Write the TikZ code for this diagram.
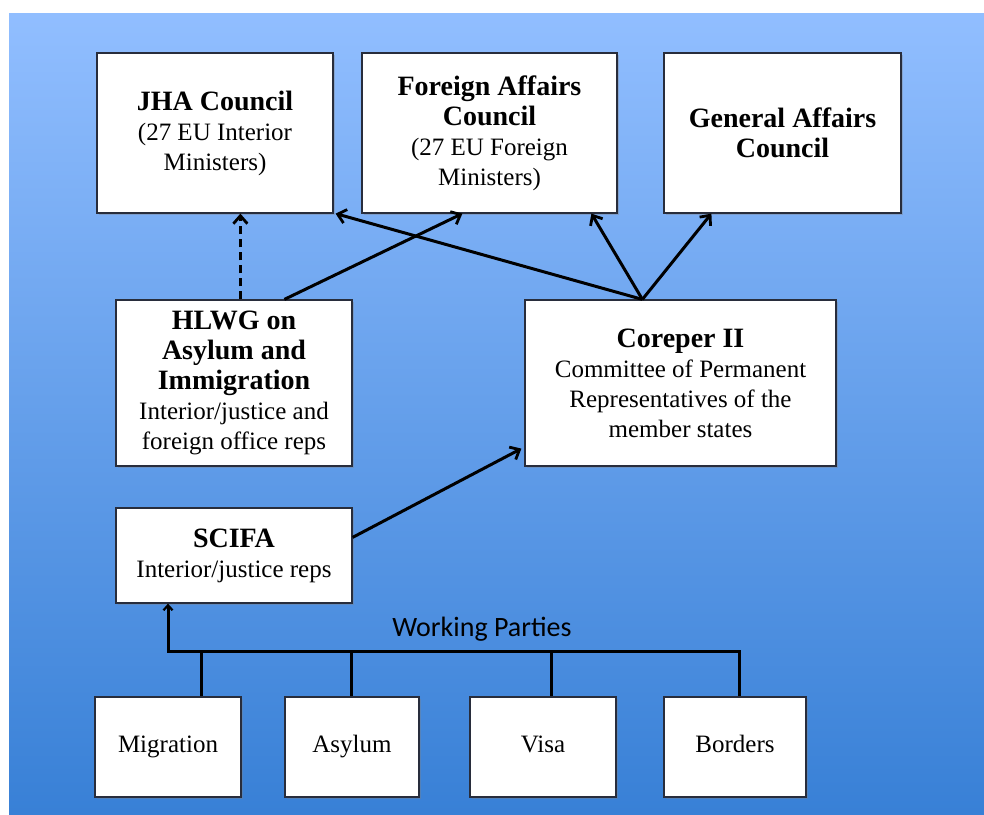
\documentclass[tikz,border=0pt]{standalone}
\usepackage{fontspec}
\setmainfont{Liberation Serif}
\newfontfamily\wpfont{Carlito}
\usetikzlibrary{arrows.meta,calc,shadows}
\definecolor{bgtop}{RGB}{145,190,255}
\definecolor{bgbot}{RGB}{56,128,214}
\definecolor{boxline}{RGB}{40,45,60}
\tikzset{
  box/.style={draw=boxline, line width=1.2pt, fill=white, inner sep=0pt, align=center,
    font=\fontsize{25}{30}\selectfont,
    drop shadow={shadow xshift=1.5pt, shadow yshift=-1.5pt, opacity=0.35}},
  wpbox/.style={box, minimum height=100, text height=17pt, text depth=6pt},
  conn/.style={line width=3pt, black},
  tip/.style={conn, -{Straight Barb[length=8pt,width=14pt,line width=2.8pt]}},
  smalltip/.style={conn, -{Straight Barb[length=5pt,width=9pt,line width=2.2pt]}},
}
\newcommand{\ttl}[1]{{\bfseries\fontsize{28}{30}\selectfont #1}}
\begin{document}
\begin{tikzpicture}[x=1pt,y=-1pt]
\useasboundingbox (0,0) rectangle (984,814);
\fill[white] (0,0) rectangle (984,814);
\shade[top color=bgtop, bottom color=bgbot] (9,13) rectangle (984,814);

% top row
\node[box, minimum width=236, minimum height=160] (jha) at (215,133)
  {\ttl{JHA Council}\\(27 EU Interior\\Ministers)};
\node[box, minimum width=255, minimum height=160] (fa) at (489.5,133)
  {\ttl{Foreign Affairs}\\\ttl{Council}\\(27 EU Foreign\\Ministers)};
\node[box, minimum width=237, minimum height=160] (ga) at (782.5,133)
  {\ttl{General Affairs}\\\ttl{Council}};

% middle row
\node[box, minimum width=236, minimum height=166] (hlwg) at (234,383)
  {\ttl{HLWG on}\\\ttl{Asylum and}\\\ttl{Immigration}\\Interior/justice and\\foreign office reps};
\node[box, minimum width=311, minimum height=166] (cor) at (680.5,383)
  {\ttl{Coreper II}\\Committee of Permanent\\Representatives of the\\member states};

% SCIFA
\node[box, minimum width=236, minimum height=95] (scifa) at (234,555.5)
  {\ttl{SCIFA}\\Interior/justice reps};

% working parties
\node[wpbox, minimum width=146] (mig) at (168,747) {Migration};
\node[wpbox, minimum width=134] (asy) at (352,747) {Asylum};
\node[wpbox, minimum width=146] (visa) at (543,747) {Visa};
\node[wpbox, minimum width=142] (bord) at (735,747) {Borders};
\node[font=\wpfont\fontsize{28}{30}\selectfont, inner sep=0pt] (wp) at (482,629) {Working Parties};

% connector anchor points
\coordinate (hl1) at ($(hlwg.north west)+(125,0)$);
\coordinate (hl2) at ($(hlwg.north west)+(169,0)$);
\coordinate (co1) at ($(cor.north west)+(118,0)$);
\coordinate (jhaT) at ($(jha.south east)+(2,0)$);
\coordinate (faL) at ($(fa.south west)+(101,0)$);
\coordinate (faR) at ($(fa.south west)+(230,0)$);
\coordinate (gaL) at ($(ga.south west)+(48,0)$);
\coordinate (sc1) at ($(scifa.north east)+(0,30)$);
\coordinate (corT) at ($(cor.south west)+(-3,-18)$);
\coordinate (busL) at ($(mig.north)+(0,-45)$);
\coordinate (d1) at ($(mig.north)+(33,0)$);
\coordinate (d2) at ($(asy.north)+(-1,0)$);
\coordinate (d3) at ($(visa.north)+(8,0)$);
\coordinate (d4) at ($(bord.north)+(4,0)$);

% connectors
\draw[tip, dash pattern=on 8pt off 5pt] (hl1) -- (hl1 |- jha.south);
\draw[tip] (hl2) -- (faL);
\draw[tip] (co1) -- (jhaT);
\draw[tip] (co1) -- (faR);
\draw[tip] (co1) -- (gaL);
\draw[tip] (sc1) -- (corT);

\draw[conn, line cap=rect] (busL) -- (busL -| d4);
\draw[conn] (d1) -- (d1 |- busL);
\draw[conn] (d2) -- (d2 |- busL);
\draw[conn] (d3) -- (d3 |- busL);
\draw[conn] (d4) -- (d4 |- busL);
\draw[smalltip] (busL) -- (busL |- scifa.south);
\end{tikzpicture}
\end{document}
